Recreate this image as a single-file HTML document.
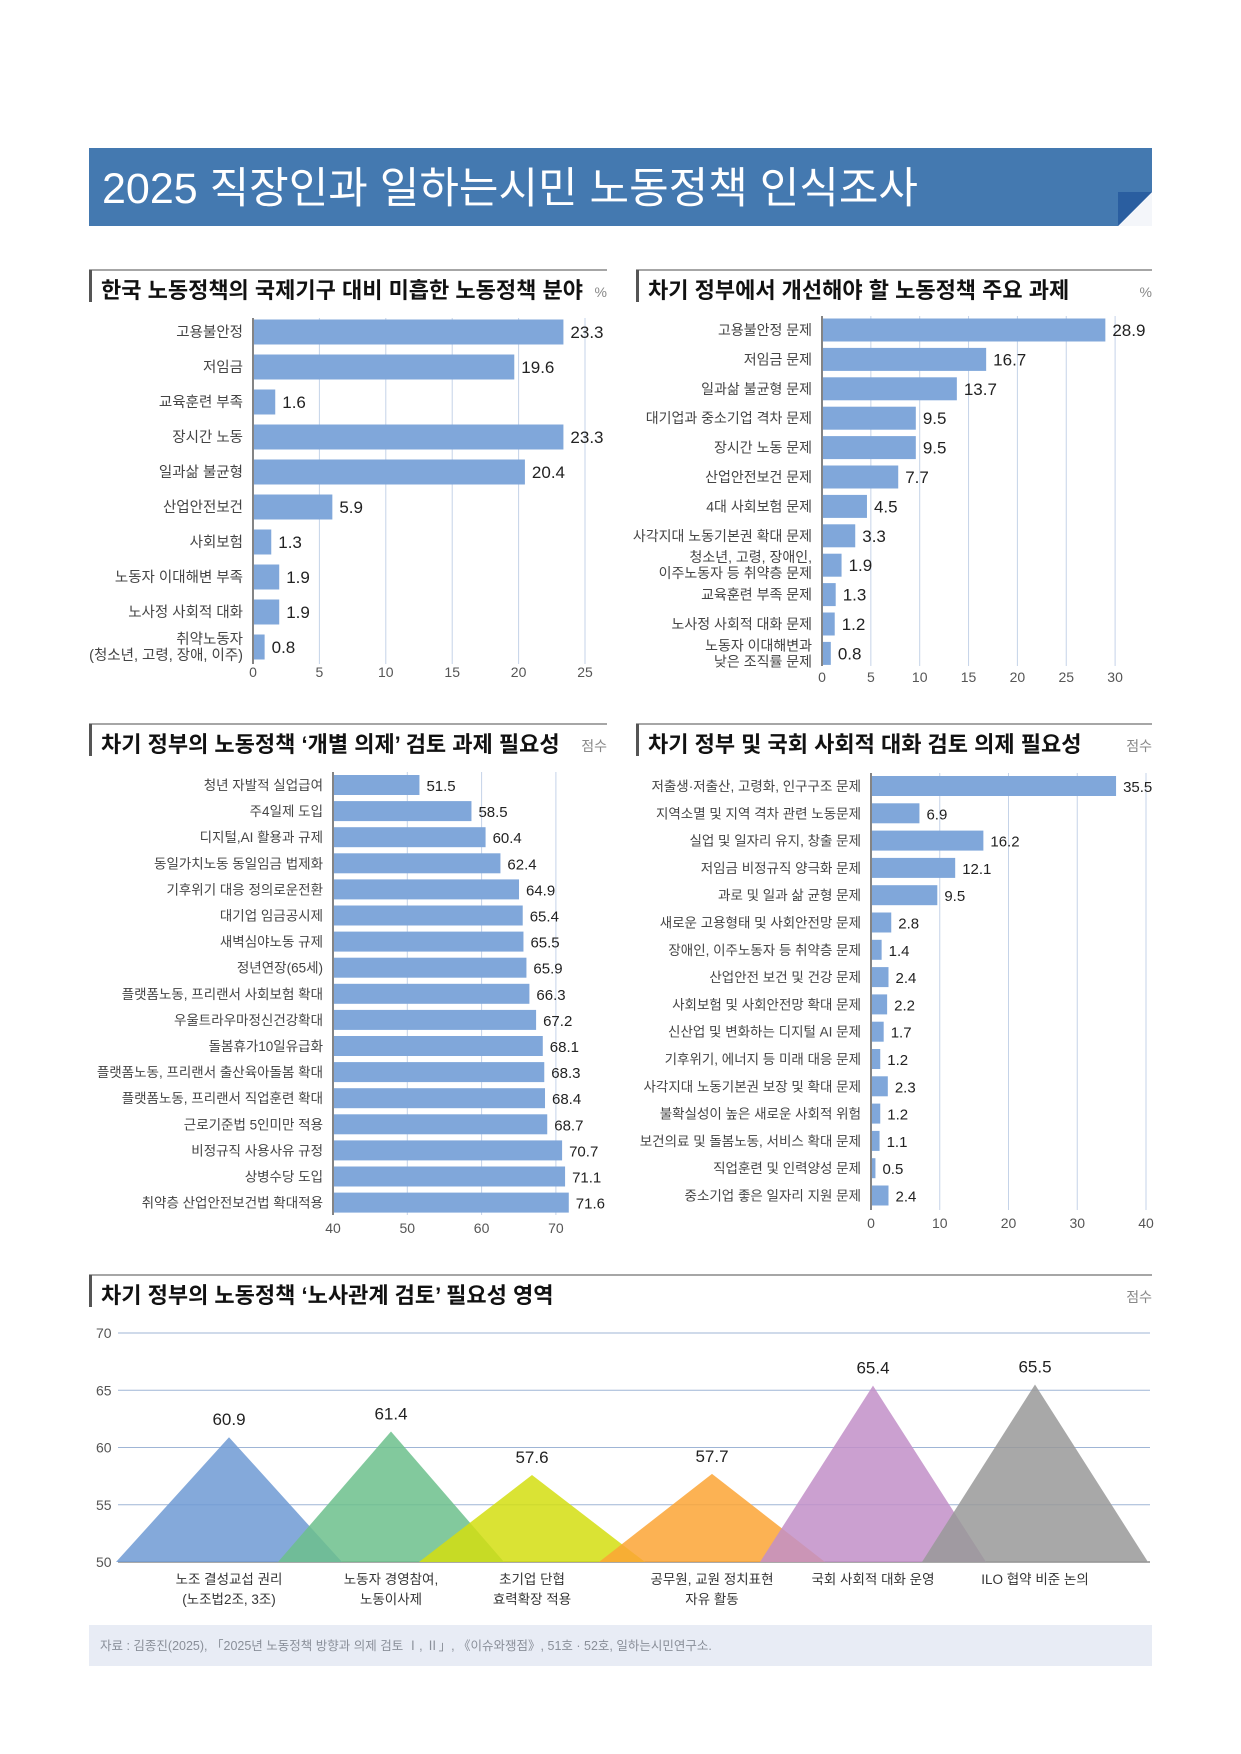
<!DOCTYPE html>
<html><head><meta charset="utf-8"><style>
body{margin:0;background:#fff;}
svg{display:block;font-family:"Liberation Sans","Noto Sans CJK KR",sans-serif;}
</style></head><body>
<svg id="s" width="1241" height="1754" viewBox="0 0 1241 1754" xmlns="http://www.w3.org/2000/svg">
<rect x="89" y="148" width="1063" height="78" fill="#4479b0"/>
<polygon points="1118,226 1152,192 1152,226" fill="#f4f6fa"/>
<polygon points="1118,226 1152,192 1118,192" fill="#2a5ea0"/>
<text x="102" y="203" font-size="43" fill="#fff">2025 직장인과 일하는시민 노동정책 인식조사</text>
<rect x="89" y="1625" width="1063" height="41" fill="#e8ecf5"/>
<text x="100" y="1650" font-size="12.5" fill="#8a8f99">자료 : 김종진(2025), 「2025년 노동정책 방향과 의제 검토 Ⅰ, Ⅱ」, 《이슈와쟁점》, 51호 · 52호, 일하는시민연구소.</text>
</svg>
<script>
const s=document.getElementById('s');const NS='http://www.w3.org/2000/svg';
function el(t,a,txt){const e=document.createElementNS(NS,t);for(const k in a)e.setAttribute(k,a[k]);if(txt!=null)e.textContent=txt;s.appendChild(e);return e;}
function title(x1,x2,y,t,unit){el('line',{x1:x1,x2:x2,y1:y,y2:y,stroke:'#888','stroke-width':1.5});el('rect',{x:x1,y:y,width:3,height:32,fill:'#555'});
el('text',{x:x1+12,y:y+28,'font-size':22,'font-weight':'bold',fill:'#111'},t);el('text',{x:x2,y:y+27,'font-size':14,fill:'#888','text-anchor':'end'},unit);}
function hbar(o){const {x0,scale,min,ticks,top,step,h,data,tickY,gridTop,gridBot,lf,vf}=o;
 ticks.forEach(t=>{const x=x0+(t-min)*scale;el('line',{x1:x,x2:x,y1:gridTop,y2:gridBot,stroke:'#c5d3e8','stroke-width':1});el('text',{x:x,y:tickY,'font-size':14,fill:'#555','text-anchor':'middle'},t);});
 el('line',{x1:x0,x2:x0,y1:gridTop,y2:gridBot,stroke:'#333','stroke-width':1.2});
 data.forEach((d,i)=>{const cy=top+i*step;const w=(d[1]-min)*scale;el('rect',{x:x0+1,y:cy-h/2,width:w,height:h,fill:'#80a7da'});
  el('text',{x:x0+w+8,y:cy+6,'font-size':vf,fill:'#222'},d[1]);
  const ls=d[0].split('|');ls.forEach((l,j)=>{el('text',{x:x0-10,y:cy+5+(j-(ls.length-1)/2)*16,'font-size':lf,fill:'#444','text-anchor':'end'},l);});});}
title(89,607,270,'한국 노동정책의 국제기구 대비 미흡한 노동정책 분야','%');
hbar({x0:253,scale:13.28,min:0,ticks:[0,5,10,15,20,25],top:332,step:35,h:25,tickY:677,gridTop:318,gridBot:664,lf:14.5,vf:17,
data:[['고용불안정',23.3],['저임금',19.6],['교육훈련 부족',1.6],['장시간 노동',23.3],['일과삶 불균형',20.4],['산업안전보건',5.9],['사회보험',1.3],['노동자 이대해변 부족',1.9],['노사정 사회적 대화',1.9],['취약노동자|(청소년, 고령, 장애, 이주)',0.8]]});
title(636,1152,270,'차기 정부에서 개선해야 할 노동정책 주요 과제','%');
hbar({x0:822,scale:9.77,min:0,ticks:[0,5,10,15,20,25,30],top:330,step:29.4,h:23,tickY:682,gridTop:316,gridBot:666,lf:14,vf:17,
data:[['고용불안정 문제',28.9],['저임금 문제',16.7],['일과삶 불균형 문제',13.7],['대기업과 중소기업 격차 문제',9.5],['장시간 노동 문제',9.5],['산업안전보건 문제',7.7],['4대 사회보험 문제',4.5],['사각지대 노동기본권 확대 문제',3.3],['청소년, 고령, 장애인,|이주노동자 등 취약층 문제',1.9],['교육훈련 부족 문제',1.3],['노사정 사회적 대화 문제',1.2],['노동자 이대해변과|낮은 조직률 문제',0.8]]});
title(89,607,724,'차기 정부의 노동정책 ‘개별 의제’ 검토 과제 필요성','점수');
hbar({x0:333,scale:7.43,min:40,ticks:[40,50,60,70],top:785,step:26.1,h:20,tickY:1233,gridTop:772,gridBot:1215,lf:13.5,vf:15,
data:[['청년 자발적 실업급여',51.5],['주4일제 도입',58.5],['디지털,AI 활용과 규제',60.4],['동일가치노동 동일임금 법제화',62.4],['기후위기 대응 정의로운전환',64.9],['대기업 임금공시제',65.4],['새벽심야노동 규제',65.5],['정년연장(65세)',65.9],['플랫폼노동, 프리랜서 사회보험 확대',66.3],['우울트라우마정신건강확대',67.2],['돌봄휴가10일유급화',68.1],['플랫폼노동, 프리랜서 출산육아돌봄 확대',68.3],['플랫폼노동, 프리랜서 직업훈련 확대',68.4],['근로기준법 5인미만 적용',68.7],['비정규직 사용사유 규정',70.7],['상병수당 도입',71.1],['취약층 산업안전보건법 확대적용',71.6]]});
title(636,1152,724,'차기 정부 및 국회 사회적 대화 검토 의제 필요성','점수');
hbar({x0:871,scale:6.875,min:0,ticks:[0,10,20,30,40],top:786,step:27.3,h:20,tickY:1228,gridTop:773,gridBot:1210,lf:13.5,vf:15,
data:[['저출생·저출산, 고령화, 인구구조 문제',35.5],['지역소멸 및 지역 격차 관련 노동문제',6.9],['실업 및 일자리 유지, 창출 문제',16.2],['저임금 비정규직 양극화 문제',12.1],['과로 및 일과 삶 균형 문제',9.5],['새로운 고용형태 및 사회안전망 문제',2.8],['장애인, 이주노동자 등 취약층 문제',1.4],['산업안전 보건 및 건강 문제',2.4],['사회보험 및 사회안전망 확대 문제',2.2],['신산업 및 변화하는 디지털 AI 문제',1.7],['기후위기, 에너지 등 미래 대응 문제',1.2],['사각지대 노동기본권 보장 및 확대 문제',2.3],['불확실성이 높은 새로운 사회적 위험',1.2],['보건의료 및 돌봄노동, 서비스 확대 문제',1.1],['직업훈련 및 인력양성 문제',0.5],['중소기업 좋은 일자리 지원 문제',2.4]]});
title(89,1152,1275,'차기 정부의 노동정책 ‘노사관계 검토’ 필요성 영역','점수');
const Y=v=>1562-(v-50)*11.45;
[70,65,60,55,50].forEach(v=>{el('line',{x1:118,x2:1150,y1:Y(v),y2:Y(v),stroke:v==50?'#555':'#9fb5d6','stroke-width':1});el('text',{x:96,y:Y(v)+5,'font-size':14,fill:'#555'},v);});
const tri=[[229,60.9,'#6f9ad3','노조 결성교섭 권리|(노조법2조, 3조)',113],[391,61.4,'#6cc08c','노동자 경영참여,|노동이사제',113],[532,57.6,'#d4de10','초기업 단협|효력확장 적용',113],[712,57.7,'#fba435','공무원, 교원 정치표현|자유 활동',113],[873,65.4,'#c28fc8','국회 사회적 대화 운영',113],[1035,65.5,'#999999','ILO 협약 비준 논의',113]];
tri.forEach(t=>{const [x,v,c,l,hw]=t;el('polygon',{points:`${x-hw},1562 ${x},${Y(v)} ${x+hw},1562`,fill:c,opacity:0.85});});
tri.forEach(t=>{const [x,v,c,l]=t;el('text',{x:x,y:Y(v)-12,'font-size':17,fill:'#222','text-anchor':'middle'},v);
 l.split('|').forEach((q,j)=>el('text',{x:x,y:1584+j*20,'font-size':13.5,fill:'#333','text-anchor':'middle'},q));});
</script>
</body></html>
